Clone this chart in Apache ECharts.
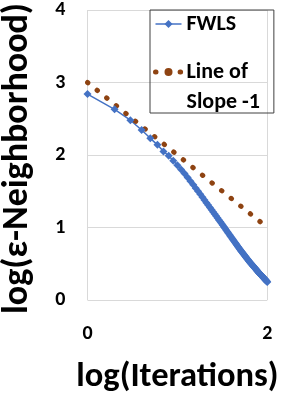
<!DOCTYPE html>
<html>
<head>
<meta charset="utf-8">
<script src="https://cdn.jsdelivr.net/npm/echarts@6/dist/echarts.min.js"></script>
<style>
html,body{margin:0;padding:0;background:#fff;}
#c{width:284px;height:393px;}
</style>
</head>
<body>
<div id="c"></div>
<script>
// ---- data ----
var xTitle = 'log(Iterations)';
var yTitle = 'log(\u03b5-Neighborhood)';
var seriesNames = ['FWLS', 'Line of Slope -1'];
// x = log10(iteration), iterations 1..100
var fwlsX = [0,0.301,0.477,0.602,0.699,0.778,0.845,0.903,0.954,1,
  1.041,1.079,1.114,1.146,1.176,1.204,1.230,1.255,1.279,1.301,
  1.322,1.342,1.362,1.380,1.398,1.415,1.431,1.447,1.462,1.477,
  1.491,1.505,1.519,1.531,1.544,1.556,1.568,1.580,1.591,1.602,
  1.613,1.623,1.633,1.643,1.653,1.663,1.672,1.681,1.690,1.699,
  1.708,1.716,1.724,1.732,1.740,1.748,1.756,1.763,1.771,1.778,
  1.785,1.792,1.799,1.806,1.813,1.820,1.826,1.833,1.839,1.845,
  1.851,1.857,1.863,1.869,1.875,1.881,1.886,1.892,1.898,1.903,
  1.908,1.914,1.919,1.924,1.929,1.934,1.940,1.944,1.949,1.954,
  1.959,1.964,1.968,1.973,1.978,1.982,1.987,1.991,1.996,2];
var fwlsY = [2.84,2.63,2.48,2.345,2.23,2.14,2.05,1.99,1.92,1.86,
  1.80,1.745,1.69,1.639,1.59,1.543,1.499,1.457,1.416,1.378,
  1.343,1.309,1.275,1.244,1.213,1.185,1.157,1.130,1.105,1.079,
  1.055,1.031,1.007,0.986,0.963,0.942,0.921,0.900,0.881,0.862,
  0.842,0.825,0.807,0.790,0.772,0.755,0.739,0.723,0.708,0.692,
  0.677,0.664,0.652,0.639,0.626,0.613,0.600,0.589,0.576,0.565,
  0.554,0.543,0.532,0.521,0.511,0.501,0.492,0.482,0.473,0.465,
  0.456,0.447,0.439,0.430,0.421,0.413,0.405,0.397,0.388,0.381,
  0.374,0.366,0.359,0.353,0.346,0.339,0.331,0.326,0.319,0.312,
  0.305,0.299,0.293,0.287,0.280,0.274,0.268,0.262,0.255,0.25];
var slopeX = [0, 2];
var slopeY = [3, 1];
var xTicks = [0, 2];
var yTicks = [0, 1, 2, 3, 4];

// ---- chart ----
function pairs(xs, ys){ return xs.map(function(x,i){ return [x, ys[i]]; }); }
var F = "Carlito,'Liberation Sans',Arial,sans-serif";
var chart = echarts.init(document.getElementById('c'), null, {renderer:'canvas'});
chart.setOption({
  animation:false,
  backgroundColor:'#ffffff',
  grid:{left:87.5, right:16.7, top:10, bottom:93, containLabel:false, outerBoundsMode:'none'},
  xAxis:{
    type:'value', min:xTicks[0], max:xTicks[xTicks.length-1], interval:xTicks[1]-xTicks[0],
    name:xTitle, nameLocation:'middle', nameGap:77,
    nameTextStyle:{fontFamily:F, fontWeight:'bold', fontSize:34.5, color:'#000', verticalAlign:'middle'},
    axisLine:{show:false}, axisTick:{show:false},
    axisLabel:{margin:24, fontFamily:F, fontWeight:'bold', fontSize:20, color:'#000'},
    splitLine:{show:true, lineStyle:{color:'#d9d9d9', width:1}}
  },
  yAxis:{
    type:'value', min:yTicks[0], max:yTicks[yTicks.length-1], interval:1,
    name:yTitle, nameLocation:'middle', nameGap:70,
    nameTextStyle:{fontFamily:F, fontWeight:'bold', fontSize:36, color:'#000', verticalAlign:'middle', padding:[0,7,0,0]},
    axisLine:{show:false}, axisTick:{show:false},
    axisLabel:{margin:22, fontFamily:F, fontWeight:'bold', fontSize:20, color:'#000'},
    splitLine:{show:true, lineStyle:{color:'#d9d9d9', width:1}}
  },
  legend:{
    orient:'vertical', left:150, top:10, padding:[3,14,0,3],
    itemWidth:26, itemHeight:10, itemGap:26,
    borderColor:'#404040', borderWidth:1,
    lineStyle:{width:'inherit'},
    data:[{name:seriesNames[0]},{name:seriesNames[1], textStyle:{padding:[10,0,0,0]}}],
    formatter:function(n){
      if(n===seriesNames[0]) return '{c|'+n+'}';
      var k = n.indexOf(' Slope');
      return '{a|'+n.slice(0,k)+'}\n{b|'+n.slice(k+1)+'}';
    },
    textStyle:{fontFamily:F, fontWeight:'bold', fontSize:22, color:'#000',
      rich:{
        a:{fontFamily:F, fontWeight:'bold', fontSize:22, color:'#000', lineHeight:50},
        b:{fontFamily:F, fontWeight:'bold', fontSize:22, color:'#000', lineHeight:10},
        c:{fontFamily:F, fontWeight:'bold', fontSize:22, color:'#000', lineHeight:24}
      }}
  },
  series:[
    {
      name:seriesNames[0], type:'line', data:pairs(fwlsX, fwlsY),
      symbol:'diamond', symbolSize:8, showAllSymbol:true,
      lineStyle:{color:'#4472C4', width:1.5},
      itemStyle:{color:'#4472C4'}
    },
    {
      name:seriesNames[1], type:'line', data:pairs(slopeX, slopeY),
      symbol:'none',
      lineStyle:{color:'#8E4312', width:5, type:[0.5, 11.8], cap:'round'},
      itemStyle:{color:'#8E4312'}
    }
  ]
});
</script>
</body>
</html>
